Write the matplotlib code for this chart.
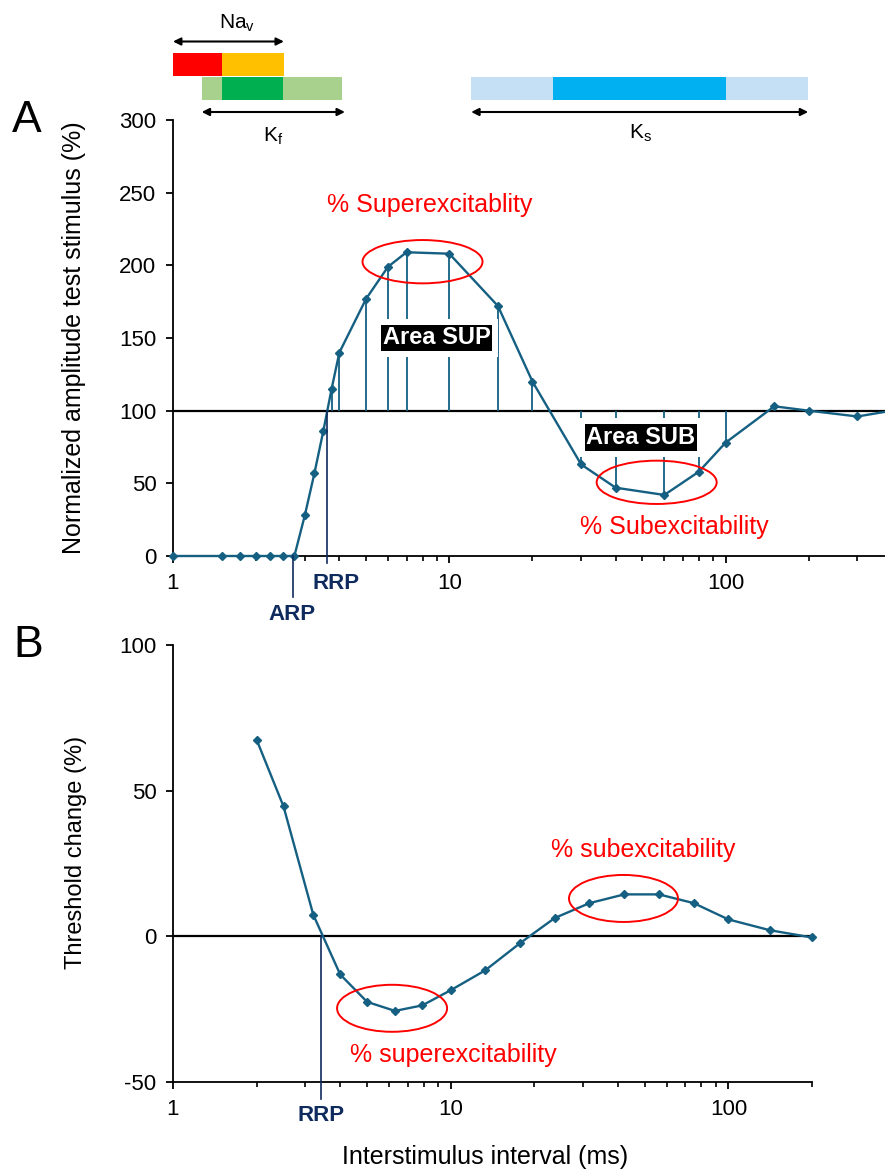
import matplotlib
matplotlib.use("Agg")
import matplotlib.pyplot as plt
from matplotlib.patches import Ellipse
from matplotlib.transforms import ScaledTranslation
from matplotlib.ticker import LogLocator, NullFormatter

plt.rcParams['font.family'] = ['Liberation Sans', 'DejaVu Sans']
plt.rcParams['mathtext.default'] = 'regular'

# panel A: normalized amplitude of the test stimulus vs interstimulus interval (ms)
isi_a = [1, 1.5, 1.75, 2, 2.25, 2.5, 2.75, 3, 3.25, 3.5, 3.75, 4, 5, 6, 7, 10,
         15, 20, 30, 40, 60, 80, 100, 150, 200, 300, 400]
amp_a = [0, 0, 0, 0, 0, 0, 0, 28, 57, 86, 115, 140, 177, 199, 209, 208,
         172, 120, 63, 47, 42, 58, 78, 103, 100, 96, 100]
# intervals that get a drop line to the 100 % level (area SUP / area SUB)
drop_a = [3.75, 4, 5, 6, 7, 10, 15, 20, 30, 40, 60, 80, 100]
arp_ms = 2.72
rrp_a_ms = 3.6

# panel B: threshold change (%) vs interstimulus interval (ms)
isi_b = [2, 2.5, 3.2, 4, 5, 6.3, 7.9, 10, 13.3, 17.8, 23.7, 31.6, 42.2, 56.2,
         75, 100, 141, 200]
thr_b = [67.5, 44.6, 7.4, -13.1, -22.5, -25.6, -23.7, -18.5, -11.7, -2.3, 6.3,
         11.4, 14.4, 14.4, 11.4, 5.8, 2.1, -0.4]
rrp_b_ms = 3.41

# channel time courses drawn above panel A (ms)
nav_spans = [(1.0, 1.5), (1.5, 2.52)]
nav_colors = ["#FF0000", "#FFC000"]
kf_spans = [(1.27, 1.5), (1.5, 2.5), (2.5, 4.1)]
kf_colors = ["#A9D18E", "#00B050", "#A9D18E"]
ks_spans = [(12, 23.7), (23.7, 100), (100, 199)]
ks_colors = ["#C5E0F4", "#00B0F0", "#C5E0F4"]
nav_range = (1.0, 2.52)
kf_range = (1.27, 4.19)
ks_range = (12, 199)

LINE = "#156082"
NAVY = "#0F2B5E"
RED = "#FF0000"

W, H = 885, 1169
fig = plt.figure(figsize=(W / 100, H / 100), dpi=100)


def fx(px):
    return px / W


def fy(py):
    return 1 - py / H


def style_axis(ax):
    ax.set_xscale('log')
    for s in ['top', 'right']:
        ax.spines[s].set_visible(False)
    for s in ['left', 'bottom']:
        ax.spines[s].set_linewidth(1.3)
    ax.set_xticks([1, 10, 100], labels=['1', '10', '100'])
    ax.xaxis.set_minor_locator(LogLocator(base=10, subs=range(2, 10), numticks=20))
    ax.xaxis.set_minor_formatter(NullFormatter())
    ax.tick_params(which='major', direction='out', length=5, width=1.3,
                   labelsize=16, pad=7)
    ax.tick_params(which='minor', direction='out', length=3.5, width=1.2)


def ring(ax, xc, yc, w, h):
    # ellipse centred on a data point, size in inches
    tr = fig.dpi_scale_trans + ScaledTranslation(xc, yc, ax.transData)
    ax.add_patch(Ellipse((0, 0), w, h, transform=tr, fill=False, ec=RED,
                         lw=1.4, clip_on=False, zorder=6))


def area_label(ax, x, y, s):
    ax.text(x, y, s, ha='center', va='center', fontsize=17, fontweight='bold',
            color='white', zorder=4,
            bbox=dict(boxstyle='square,pad=0.33', fc='white', ec='none'))
    ax.text(x, y, s, ha='center', va='center', fontsize=17, fontweight='bold',
            color='white', zorder=5,
            bbox=dict(boxstyle='square,pad=0.08', fc='black', ec='none'))


# ---------------- panel A ----------------
ax_a = fig.add_axes([fx(173), fy(556), fx(885 - 173), (556 - 120) / H])
style_axis(ax_a)
ax_a.set_xlim(1, 10 ** ((885 - 173) / 276.3))
ax_a.set_ylim(0, 300)
ax_a.set_yticks(range(0, 301, 50))
ax_a.tick_params(axis='y', labelsize=16)

ax_a.axhline(100, color='black', lw=1.6, zorder=2)
amp_at = dict(zip(isi_a, amp_a))
ax_a.vlines(drop_a, [amp_at[x] for x in drop_a], 100, color=LINE, lw=1.3, zorder=2)
ax_a.plot(isi_a, amp_a, color=LINE, lw=1.7, marker='D', markersize=4.5,
          clip_on=False, zorder=3)
ax_a.plot([arp_ms, arp_ms], [0, -28], color=NAVY, lw=1.2, clip_on=False, zorder=3)
ax_a.plot([rrp_a_ms, rrp_a_ms], [100, -5], color=NAVY, lw=1.2, clip_on=False, zorder=3)
ax_a.text(3.89, -19, 'RRP', ha='center', va='center', fontsize=16,
          fontweight='bold', color=NAVY)
ax_a.text(2.685, -40.5, 'ARP', ha='center', va='center', fontsize=16,
          fontweight='bold', color=NAVY)

area_label(ax_a, 9.0, 150, 'Area SUP')
area_label(ax_a, 49.4, 81.5, 'Area SUB')
ring(ax_a, 8.0, 202.5, 1.2, 0.433)
ring(ax_a, 56.3, 50.7, 1.2, 0.433)
ax_a.text(8.5, 241.5, '% Superexcitablity', ha='center', va='center',
          fontsize=18, color=RED)
ax_a.text(65.3, 20, '% Subexcitability', ha='center', va='center',
          fontsize=18, color=RED)

# ---------------- channel bars above panel A ----------------
ax_t = fig.add_axes([fx(173), fy(150), fx(885 - 173), 150 / H])
ax_t.set_xscale('log')
ax_t.set_xlim(ax_a.get_xlim())
ax_t.set_ylim(150, 0)
ax_t.axis('off')
for (x0, x1), c in zip(nav_spans, nav_colors):
    ax_t.barh(64.5, x1 - x0, left=x0, height=23, color=c)
for (x0, x1), c in zip(kf_spans, kf_colors):
    ax_t.barh(88, x1 - x0, left=x0, height=23, color=c)
for (x0, x1), c in zip(ks_spans, ks_colors):
    ax_t.barh(88, x1 - x0, left=x0, height=23, color=c)
for (x0, x1), yy in [(nav_range, 41.5), (kf_range, 112), (ks_range, 112)]:
    ax_t.annotate('', xy=(x1, yy), xytext=(x0, yy),
                  arrowprops=dict(arrowstyle='<|-|>', color='black', lw=1.5,
                                  mutation_scale=11, shrinkA=0, shrinkB=0))
fig.text(fx(237), fy(23), r'Na$_v$', ha='center', va='center', fontsize=15)
fig.text(fx(273), fy(136), r'K$_f$', ha='center', va='center', fontsize=15)
fig.text(fx(640), fy(133), r'K$_s$', ha='center', va='center', fontsize=15)

# ---------------- panel B ----------------
ax_b = fig.add_axes([fx(173), fy(1082), fx(812 - 173), (1082 - 645) / H])
style_axis(ax_b)
ax_b.set_xlim(1, 200)
ax_b.set_ylim(-50, 100)
ax_b.set_yticks([-50, 0, 50, 100], labels=['-50', '0', '50', '100'])
ax_b.axhline(0, color='black', lw=1.6, zorder=2)
ax_b.plot(isi_b, thr_b, color=LINE, lw=1.7, marker='D', markersize=4.5,
          clip_on=False, zorder=3)
ax_b.plot([rrp_b_ms, rrp_b_ms], [0, -56], color=NAVY, lw=1.2, clip_on=False, zorder=3)
ax_b.text(rrp_b_ms, -61.5, 'RRP', ha='center', va='center', fontsize=16,
          fontweight='bold', color=NAVY)
ring(ax_b, 6.15, -24.7, 1.1, 0.47)
ring(ax_b, 41.9, 13.0, 1.09, 0.47)
ax_b.text(49.5, 29.6, '% subexcitability', ha='center', va='center',
          fontsize=18, color=RED)
ax_b.text(10.2, -40.9, '% superexcitability', ha='center', va='center',
          fontsize=18, color=RED)

# ---------------- labels ----------------
fig.text(fx(74), fy(338), 'Normalized amplitude test stimulus (%)', rotation=90,
         ha='center', va='center', fontsize=18)
fig.text(fx(76), fy(852), 'Threshold change (%)', rotation=90,
         ha='center', va='center', fontsize=17)
fig.text(fx(485), fy(1157), 'Interstimulus interval (ms)', ha='center',
         va='center', fontsize=18)
fig.text(fx(27), fy(132), 'A', ha='center', va='baseline', fontsize=32)
fig.text(fx(28), fy(657), 'B', ha='center', va='baseline', fontsize=32)

fig.savefig('out.png', dpi=100)
